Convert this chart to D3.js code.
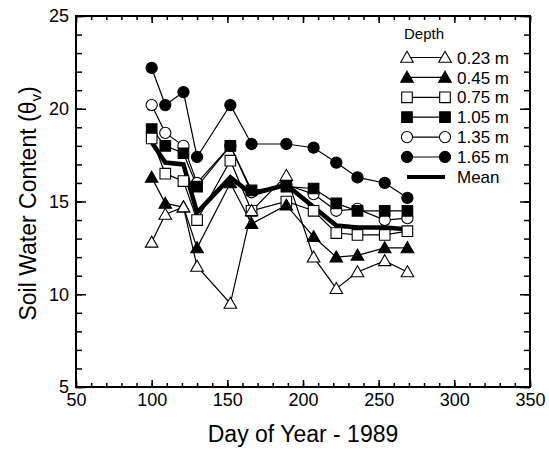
<!DOCTYPE html>
<html>
<head>
<meta charset="utf-8">
<script src="https://cdn.jsdelivr.net/npm/d3@7"></script>
<style>
  body { margin: 0; background: #fff; }
  svg { display: block; font-family: "Liberation Sans", Arial, Helvetica, sans-serif; }
</style>
</head>
<body>
<svg id="chart" width="549" height="449"></svg>
<script>
// day of year and soil water content per depth
var days = [100, 109, 121, 130, 152, 166, 189, 207, 222, 236, 254, 269];
var d023 = [12.8, 14.3, 14.7, 11.5, 9.5, 14.5, 16.4, 12.0, 10.3, 11.2, 11.8, 11.2];
var d045 = [16.3, 14.9, 14.7, 12.5, 16.0, 13.8, 14.8, 13.1, 12.0, 12.1, 12.5, 12.5];
var d075 = [18.4, 16.5, 16.1, 14.0, 17.2, 14.5, 15.0, 14.5, 13.3, 13.2, 13.2, 13.4];
var d105 = [18.9, 18.0, 17.6, 15.8, 18.0, 15.6, 15.8, 15.7, 14.9, 14.5, 14.5, 14.5];
var d135 = [20.2, 18.7, 18.0, 16.0, 18.0, 15.5, 15.9, 15.4, 14.5, 14.6, 14.0, 14.1];
var d165 = [22.2, 20.2, 20.9, 17.4, 20.2, 18.1, 18.1, 17.9, 17.1, 16.3, 16.0, 15.2];
var meanVals = [18.2, 17.1, 17.0, 14.4, 16.3, 15.4, 15.9, 14.7, 13.7, 13.6, 13.6, 13.5];

var depthLabels = ["0.23 m", "0.45 m", "0.75 m", "1.05 m", "1.35 m", "1.65 m"];
var xTicks = [50, 100, 150, 200, 250, 300, 350];
var yTicks = [5, 10, 15, 20, 25];

var series = [
  {label: depthLabels[0], values: d023, shape: "triangle", fill: "#fff"},
  {label: depthLabels[1], values: d045, shape: "triangle", fill: "#000"},
  {label: depthLabels[2], values: d075, shape: "square", fill: "#fff"},
  {label: depthLabels[3], values: d105, shape: "square", fill: "#000"},
  {label: depthLabels[4], values: d135, shape: "circle", fill: "#fff"},
  {label: depthLabels[5], values: d165, shape: "circle", fill: "#000"}
];

var margin = {top: 16, right: 19, bottom: 62, left: 76},
    width = 549 - margin.left - margin.right,
    height = 449 - margin.top - margin.bottom;

var svg = d3.select("#chart");
var g = svg.append("g").attr("transform", "translate(" + margin.left + "," + margin.top + ")");

var x = d3.scaleLinear().domain([50, 350]).range([0, width]);
var y = d3.scaleLinear().domain([5, 25]).range([height, 0]);

// marker paths centred on the point
var markerPath = {
  triangle: "M0,-6.2L6.3,4.8L-6.3,4.8Z",
  square: "M-5.3,-5.3H5.3V5.3H-5.3Z",
  circle: d3.symbol().type(d3.symbolCircle).size(Math.PI * 5.6 * 5.6)()
};

// axes: inward ticks on all four sides
var xMinor = d3.range(50, 351, 10), yMinor = d3.range(5, 26, 1);

g.append("g").attr("class", "axis").attr("transform", "translate(0," + height + ")")
  .call(d3.axisBottom(x).tickValues(xMinor).tickSize(-4).tickFormat(""));
g.append("g").attr("class", "axis").attr("transform", "translate(0," + height + ")")
  .call(d3.axisBottom(x).tickValues(xTicks).tickSize(-7).tickPadding(6));
g.append("g").attr("class", "axis")
  .call(d3.axisTop(x).tickValues(xMinor).tickSize(-4).tickFormat(""));
g.append("g").attr("class", "axis")
  .call(d3.axisTop(x).tickValues(xTicks).tickSize(-7).tickFormat(""));

g.append("g").attr("class", "axis")
  .call(d3.axisLeft(y).tickValues(yMinor).tickSize(-6).tickFormat(""));
g.append("g").attr("class", "axis")
  .call(d3.axisLeft(y).tickValues(yTicks).tickSize(-10).tickPadding(7));
g.append("g").attr("class", "axis").attr("transform", "translate(" + width + ",0)")
  .call(d3.axisRight(y).tickValues(yMinor).tickSize(-6).tickFormat(""));
g.append("g").attr("class", "axis").attr("transform", "translate(" + width + ",0)")
  .call(d3.axisRight(y).tickValues(yTicks).tickSize(-10).tickFormat(""));

g.selectAll(".axis .domain").remove();
g.selectAll(".axis line").attr("stroke", "#000").attr("stroke-width", 1.5);
g.selectAll(".axis text").attr("fill", "#000").style("font-size", "18px");

g.append("rect")
  .attr("width", width).attr("height", height)
  .attr("fill", "none").attr("stroke", "#000").attr("stroke-width", 2);

// axis titles
svg.append("text")
  .attr("x", margin.left + width / 2).attr("y", 442)
  .attr("text-anchor", "middle").style("font-size", "23px")
  .text("Day of Year - 1989");

var yt = svg.append("text")
  .attr("transform", "translate(36," + (margin.top + height / 2 + 2) + ") rotate(-90)")
  .attr("text-anchor", "middle").style("font-size", "23px");
yt.append("tspan").text("Soil Water Content (\u03B8");
yt.append("tspan").attr("dy", 5).style("font-size", "15px").text("v");
yt.append("tspan").attr("dy", -5).text(")");

// lines
var line = d3.line()
  .x(function(d, i) { return x(days[i]); })
  .y(function(d) { return y(d); });

g.selectAll("path.depth")
  .data(series)
  .enter().append("path")
  .attr("class", "depth")
  .attr("d", function(s) { return line(s.values); })
  .attr("fill", "none").attr("stroke", "#000").attr("stroke-width", 1.2);

g.append("path")
  .attr("d", line(meanVals))
  .attr("fill", "none").attr("stroke", "#000").attr("stroke-width", 4.5)
  .attr("stroke-linejoin", "miter");

// markers, deepest first so shallow ones sit on top
series.slice().reverse().forEach(function(s) {
  g.selectAll(null)
    .data(s.values)
    .enter().append("path")
    .attr("d", markerPath[s.shape])
    .attr("transform", function(d, i) { return "translate(" + x(days[i]) + "," + y(d) + ")"; })
    .attr("fill", s.fill).attr("stroke", "#000").attr("stroke-width", 1.1);
});

// legend
var legend = svg.append("g");
legend.append("text")
  .attr("x", 404).attr("y", 39)
  .style("font-size", "15px").text("Depth");

var rows = series.concat([{label: "Mean", mean: true}]);
var lx0 = 407, lx1 = 445;
rows.forEach(function(s, i) {
  var ry = 57.5 + i * 19.9;
  legend.append("line")
    .attr("x1", lx0).attr("x2", lx1).attr("y1", ry).attr("y2", ry)
    .attr("stroke", "#000").attr("stroke-width", s.mean ? 4 : 1.2);
  if (!s.mean) {
    [lx0, lx1].forEach(function(px) {
      legend.append("path")
        .attr("d", markerPath[s.shape])
        .attr("transform", "translate(" + px + "," + ry + ")")
        .attr("fill", s.fill).attr("stroke", "#000").attr("stroke-width", 1.1);
    });
  }
  legend.append("text")
    .attr("x", 457).attr("y", ry).attr("dy", "0.36em")
    .style("font-size", "17px").text(s.label);
});
</script>
</body>
</html>
